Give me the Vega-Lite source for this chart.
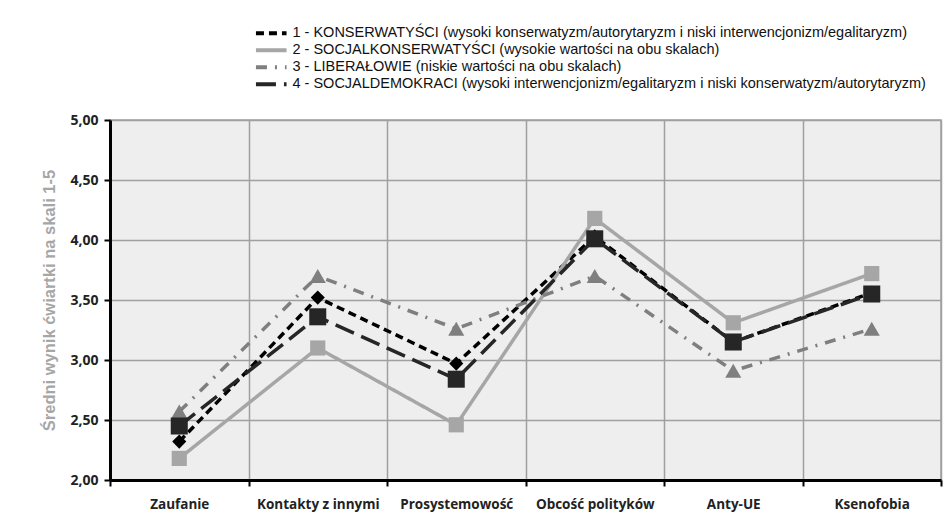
{
  "$schema": "https://vega.github.io/schema/vega-lite/v6.json",
  "width": 831,
  "height": 360,
  "autosize": "none",
  "padding": {"left": 110, "top": 120, "right": 11, "bottom": 50},
  "background": "white",
  "config": {
    "view": {"fill": "#edeeed", "stroke": "#a0a0a0", "strokeWidth": 1.5},
    "font": "Liberation Sans"
  },
  "data": {
    "values": [
      {"cat": "Zaufanie", "series": "1 - KONSERWATYŚCI (wysoki konserwatyzm/autorytaryzm i niski interwencjonizm/egalitaryzm)", "value": 2.32},
      {"cat": "Kontakty z innymi", "series": "1 - KONSERWATYŚCI (wysoki konserwatyzm/autorytaryzm i niski interwencjonizm/egalitaryzm)", "value": 3.52},
      {"cat": "Prosystemowość", "series": "1 - KONSERWATYŚCI (wysoki konserwatyzm/autorytaryzm i niski interwencjonizm/egalitaryzm)", "value": 2.97},
      {"cat": "Obcość polityków", "series": "1 - KONSERWATYŚCI (wysoki konserwatyzm/autorytaryzm i niski interwencjonizm/egalitaryzm)", "value": 4.03},
      {"cat": "Anty-UE", "series": "1 - KONSERWATYŚCI (wysoki konserwatyzm/autorytaryzm i niski interwencjonizm/egalitaryzm)", "value": 3.15},
      {"cat": "Ksenofobia", "series": "1 - KONSERWATYŚCI (wysoki konserwatyzm/autorytaryzm i niski interwencjonizm/egalitaryzm)", "value": 3.56},
      {"cat": "Zaufanie", "series": "2 - SOCJALKONSERWATYŚCI (wysokie wartości na obu skalach)", "value": 2.18},
      {"cat": "Kontakty z innymi", "series": "2 - SOCJALKONSERWATYŚCI (wysokie wartości na obu skalach)", "value": 3.1},
      {"cat": "Prosystemowość", "series": "2 - SOCJALKONSERWATYŚCI (wysokie wartości na obu skalach)", "value": 2.46},
      {"cat": "Obcość polityków", "series": "2 - SOCJALKONSERWATYŚCI (wysokie wartości na obu skalach)", "value": 4.18},
      {"cat": "Anty-UE", "series": "2 - SOCJALKONSERWATYŚCI (wysokie wartości na obu skalach)", "value": 3.31},
      {"cat": "Ksenofobia", "series": "2 - SOCJALKONSERWATYŚCI (wysokie wartości na obu skalach)", "value": 3.72},
      {"cat": "Zaufanie", "series": "3 - LIBERAŁOWIE (niskie wartości na obu skalach)", "value": 2.57},
      {"cat": "Kontakty z innymi", "series": "3 - LIBERAŁOWIE (niskie wartości na obu skalach)", "value": 3.7},
      {"cat": "Prosystemowość", "series": "3 - LIBERAŁOWIE (niskie wartości na obu skalach)", "value": 3.26},
      {"cat": "Obcość polityków", "series": "3 - LIBERAŁOWIE (niskie wartości na obu skalach)", "value": 3.7},
      {"cat": "Anty-UE", "series": "3 - LIBERAŁOWIE (niskie wartości na obu skalach)", "value": 2.91},
      {"cat": "Ksenofobia", "series": "3 - LIBERAŁOWIE (niskie wartości na obu skalach)", "value": 3.26},
      {"cat": "Zaufanie", "series": "4 - SOCJALDEMOKRACI (wysoki interwencjonizm/egalitaryzm i niski konserwatyzm/autorytaryzm)", "value": 2.45},
      {"cat": "Kontakty z innymi", "series": "4 - SOCJALDEMOKRACI (wysoki interwencjonizm/egalitaryzm i niski konserwatyzm/autorytaryzm)", "value": 3.36},
      {"cat": "Prosystemowość", "series": "4 - SOCJALDEMOKRACI (wysoki interwencjonizm/egalitaryzm i niski konserwatyzm/autorytaryzm)", "value": 2.84},
      {"cat": "Obcość polityków", "series": "4 - SOCJALDEMOKRACI (wysoki interwencjonizm/egalitaryzm i niski konserwatyzm/autorytaryzm)", "value": 4.01},
      {"cat": "Anty-UE", "series": "4 - SOCJALDEMOKRACI (wysoki interwencjonizm/egalitaryzm i niski konserwatyzm/autorytaryzm)", "value": 3.15},
      {"cat": "Ksenofobia", "series": "4 - SOCJALDEMOKRACI (wysoki interwencjonizm/egalitaryzm i niski konserwatyzm/autorytaryzm)", "value": 3.55}
    ]
  },
  "encoding": {
    "x": {
      "field": "cat",
      "type": "nominal",
      "sort": ["Zaufanie", "Kontakty z innymi", "Prosystemowość", "Obcość polityków", "Anty-UE", "Ksenofobia"],
      "scale": {"paddingInner": 0, "paddingOuter": 0},
      "axis": {
        "title": null,
        "labelAngle": 0,
        "labelFont": "Open Sans",
        "labelFontWeight": "bold",
        "labelFontSize": 13.5,
        "labelColor": "#222222",
        "labelPadding": 11,
        "bandPosition": 0,
        "grid": true,
        "gridColor": "#a0a0a0",
        "gridWidth": 1.5,
        "domainColor": "#000000",
        "domainWidth": 3,
        "tickColor": "#000000",
        "tickWidth": 2,
        "tickSize": 6,
        "tickBand": "extent"
      }
    },
    "y": {
      "field": "value",
      "type": "quantitative",
      "scale": {"domain": [2, 5], "nice": false, "zero": false},
      "axis": {
        "title": "Średni wynik ćwiartki na skali 1-5",
        "titleFont": "Liberation Sans",
        "titleFontSize": 16.5,
        "titleFontWeight": "bold",
        "titleColor": "#a6a6a6",
        "titlePadding": 12,
        "values": [2, 2.5, 3, 3.5, 4, 4.5, 5],
        "labelExpr": "replace(format(datum.value, '.2f'), '.', ',')",
        "labelFont": "Open Sans",
        "labelFontWeight": "bold",
        "labelFontSize": 14,
        "labelColor": "#222222",
        "labelPadding": 6,
        "grid": true,
        "gridColor": "#a0a0a0",
        "gridWidth": 1.5,
        "domainColor": "#000000",
        "domainWidth": 3,
        "tickColor": "#000000",
        "tickWidth": 2,
        "tickSize": 6
      }
    }
  },
  "layer": [
    {
      "mark": {"type": "line", "strokeWidth": 3.5},
      "encoding": {
        "color": {
          "field": "series",
          "type": "nominal",
          "scale": {"range": ["#000000", "#a6a6a6", "#7f7f7f", "#262626"]},
          "legend": {
            "title": null,
            "orient": "none",
            "legendX": 154,
            "legendY": -94,
            "symbolType": "M-3.4,0H3.4",
            "symbolSize": 81,
            "symbolStrokeWidth": 4,
            "symbolFillColor": "transparent",
            "labelFont": "Liberation Sans",
            "labelFontSize": 14.5,
            "labelColor": "#111111",
            "labelLimit": 800,
            "rowPadding": 0,
            "labelOffset": 14,
            "encode": {
              "symbols": {
                "update": {
                  "strokeDash": {"scale": "strokeDash", "field": "value"},
                  "stroke": {"scale": "color", "field": "value"},
                  "fill": {"value": "transparent"}
                }
              }
            }
          }
        },
        "strokeDash": {
          "field": "series",
          "type": "nominal",
          "scale": {"range": [[8, 5], [1, 0], [11, 8, 2, 8], [20, 8]]},
          "legend": null
        }
      }
    },
    {
      "mark": {"type": "point", "filled": true, "opacity": 1},
      "encoding": {
        "color": {"field": "series", "type": "nominal", "legend": null},
        "shape": {
          "field": "series",
          "type": "nominal",
          "scale": {"range": ["diamond", "square", "triangle-up", "square"]},
          "legend": null
        },
        "size": {
          "field": "series",
          "type": "nominal",
          "scale": {"range": [200, 290, 200, 190]},
          "legend": null
        }
      }
    }
  ]
}
